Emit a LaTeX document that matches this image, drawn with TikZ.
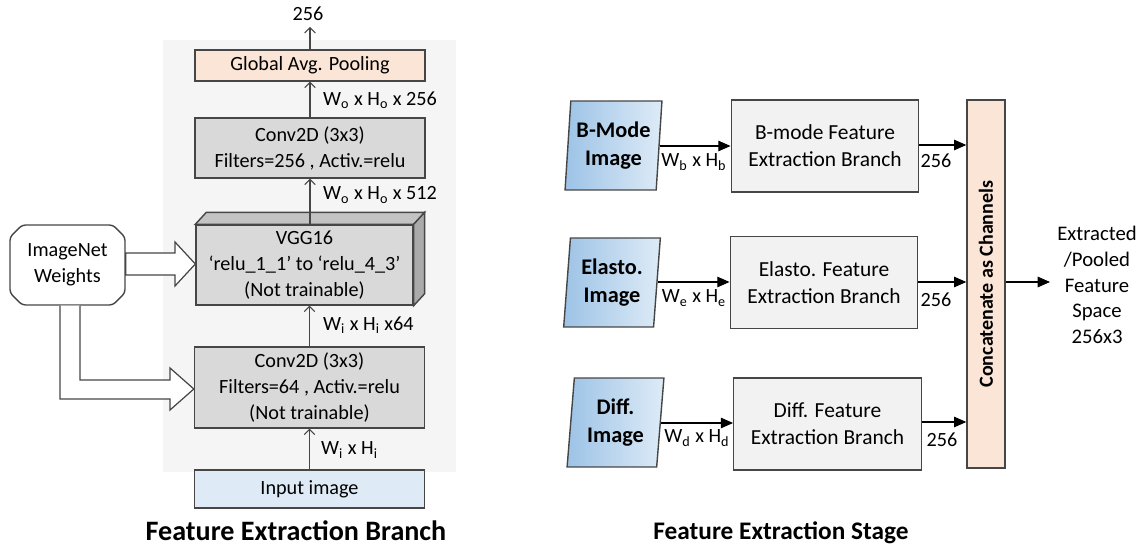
\documentclass[tikz,border=0pt]{standalone}
\usepackage{fontspec}
\setmainfont{Carlito}
\definecolor{poolorange}{RGB}{251,229,214}
\definecolor{convgray}{RGB}{217,217,217}
\definecolor{vggside}{RGB}{170,170,170}
\definecolor{inblue}{RGB}{222,235,247}
\definecolor{imgblue}{RGB}{157,195,230}
\definecolor{branchgray}{RGB}{242,242,242}
\definecolor{edgegray}{RGB}{70,70,70}
\usetikzlibrary{arrows.meta, positioning, shapes.geometric, shapes.misc}

\begin{document}
\begin{tikzpicture}[x=0.02cm, y=-0.02cm, font=\fontsize{11.5}{14.8}\selectfont,
  layer/.style={draw=edgegray, line width=0.8pt, align=center, inner sep=0pt, minimum width=4.6cm},
  branchbox/.style={draw=edgegray, line width=0.8pt, fill=branchgray, align=center, inner sep=0pt, minimum width=3.75cm, minimum height=1.84cm, font=\fontsize{12.2}{15.3}\selectfont},
  imgbox/.style={trapezium, trapezium left angle=84, trapezium right angle=96, trapezium stretches=true, draw=edgegray, line width=0.8pt, left color=imgblue, right color=inblue, align=center, inner sep=0pt, minimum width=1.94cm, minimum height=1.78cm, font=\fontsize{12.7}{16}\selectfont\bfseries},
  flow/.style={draw=edgegray, line width=0.6pt, -{Straight Barb[length=3pt,width=6pt]}},
  feed/.style={draw=black, line width=0.6pt, -{Triangle[length=7pt,width=6pt]}},
  bigarrow/.style={draw=edgegray, line width=0.7pt, fill=white},
  title/.style={font=\fontsize{16}{19}\selectfont\bfseries}]
\useasboundingbox (0,0) rectangle (1148,546);

% feature extraction branch
\fill[black!4] (163,40) rectangle (456,472);
\node[layer, fill=poolorange, minimum height=0.62cm] (gap) at (310,65.5) {Global Avg. Pooling};
\node[layer, fill=convgray, minimum height=1.2cm] (conv256) at (310,148) {Conv2D (3x3)\\Filters=256 , Activ.=relu};
\node[layer, fill=convgray, minimum width=4.34cm, minimum height=1.6cm] (vgg) at (304.5,265) {VGG16\\`relu\_1\_1' to `relu\_4\_3'\\(Not trainable)};
\draw[draw=edgegray, line width=0.8pt, fill=convgray!90!black] (vgg.north west) -- ++(11,-12) -- ([shift={(11,-12)}]vgg.north east) -- (vgg.north east) -- cycle;
\draw[draw=edgegray, line width=0.8pt, fill=vggside] (vgg.north east) -- ++(11,-12) -- ([shift={(11,-12)}]vgg.south east) -- (vgg.south east) -- cycle;
\node[layer, fill=convgray, minimum height=1.62cm] (conv64) at (309.5,387.5) {Conv2D (3x3)\\Filters=64 , Activ.=relu\\(Not trainable)};
\node[layer, fill=inblue, minimum height=0.76cm] (input) at (309.5,489) {Input image};
\coordinate (out) at (310,27);

\draw[flow] (input) -- (conv64);
\draw[flow] (conv64) -- (vgg.south -| conv64.north);
\draw[flow] (vgg.north -| conv256.south) -- (conv256);
\draw[flow] (conv256) -- (gap);
\draw[flow] (gap) -- (out);
\node (outlbl) at (308,14) {256};
\node[anchor=west] (dim1) at (315,450) {W\textsubscript{i} x H\textsubscript{i}};
\node[anchor=west] (dim2) at (317,325) {W\textsubscript{i} x H\textsubscript{i} x64};
\node[anchor=west] (dim3) at (317,195) {W\textsubscript{o} x H\textsubscript{o} x 512};
\node[anchor=west] (dim4) at (317,100) {W\textsubscript{o} x H\textsubscript{o} x 256};

\node[chamfered rectangle, chamfered rectangle xsep=0.12cm, chamfered rectangle ysep=0.12cm, draw=edgegray, line width=0.8pt, fill=white, rounded corners=2pt, align=center, inner sep=0pt, minimum width=2.3cm, minimum height=1.6cm] (wts) at (67.5,265) {ImageNet\\Weights};
\draw[bigarrow] (wts.east |- 0,253) -- (175,253) -- (175,242) -- (vgg.west |- 0,264) -- (175,286) -- (175,275) -- (wts.east |- 0,275) -- cycle;
\draw[bigarrow] (60,0 |- wts.south) -- (60,399) -- (170,399) -- (170,410) -- (conv64.west |- 0,389) -- (170,368) -- (170,380) -- (80,380) -- (80,0 |- wts.south);

\node[title] (ttl1) at (296,531) {Feature Extraction Branch};

% feature extraction stage
\node[imgbox] (bimg) at (613.5,145.5) {B-Mode\\Image};
\node[imgbox] (eimg) at (612,282.5) {Elasto.\\Image};
\node[imgbox] (dimg) at (615.5,422.5) {Diff.\\Image};
\node[branchbox] (bbr) at (825,146) {B-mode Feature\\Extraction Branch};
\node[branchbox] (ebr) at (824,282.5) {Elasto. Feature\\Extraction Branch};
\node[branchbox] (dbr) at (827.5,424) {Diff. Feature\\Extraction Branch};
\node[draw=edgegray, line width=0.8pt, fill=poolorange, minimum width=0.76cm, minimum height=7.36cm, inner sep=0pt] (concat) at (986,284) {};
\node[rotate=90, font=\fontsize{11.4}{13}\selectfont\bfseries] (concatlbl) at (concat) {Concatenate as Channels};
\coordinate (feat) at (1050,282);

\draw[feed] (bimg.east |- 0,146) -- (bbr.west |- 0,146);
\draw[feed] (eimg.east |- 0,282) -- (ebr.west |- 0,282);
\draw[feed] (dimg.east |- 0,423) -- (dbr.west |- 0,423);
\draw[feed] (bbr.east |- 0,145) -- (concat.west |- 0,145);
\draw[feed] (ebr.east |- 0,282) -- (concat.west |- 0,282);
\draw[feed] (dbr.east |- 0,422) -- (concat.west |- 0,422);
\draw[feed] (concat.east |- feat) -- (feat);

\node (bdim) at (694,162) {W\textsubscript{b} x H\textsubscript{b}};
\node (edim) at (694,298) {W\textsubscript{e} x H\textsubscript{e}};
\node (ddim) at (697,438) {W\textsubscript{d} x H\textsubscript{d}};
\node (bch) at (936,161) {256};
\node (ech) at (936,300) {256};
\node (dch) at (942,440) {256};
\node[align=center, font=\fontsize{11.8}{14.7}\selectfont] (featlbl) at (1097,285) {Extracted\\/Pooled\\Feature\\Space\\256x3};

\node[title, font=\fontsize{14.4}{17}\selectfont\bfseries] (ttl2) at (781,533) {Feature Extraction Stage};
\end{tikzpicture}
\end{document}
